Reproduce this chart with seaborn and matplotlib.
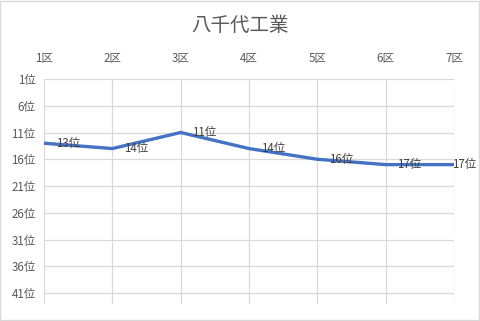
import matplotlib
matplotlib.use("Agg")
import matplotlib.pyplot as plt
import seaborn as sns
import pandas as pd
from matplotlib.patches import Rectangle

# Data
sections = ["1区", "2区", "3区", "4区", "5区", "6区", "7区"]
ranks = [13, 14, 11, 14, 16, 17, 17]
rank_ticks = [1, 6, 11, 16, 21, 26, 31, 36, 41]
title = "八千代工業"

sns.set_theme(style="white")
plt.rcParams['font.family'] = ['Noto Sans CJK JP', 'DejaVu Sans']

df = pd.DataFrame({"pos": range(len(sections)), "section": sections, "rank": ranks})

fig = plt.figure(figsize=(4.8, 3.21), dpi=100)
ax = fig.add_axes([44/480, 1-304/321, (454-44)/480, (304-79)/321])

sns.lineplot(data=df, x="pos", y="rank", ax=ax, color="#4472C4", linewidth=2.4,
             solid_capstyle="round", solid_joinstyle="round", zorder=3)

ax.set_ylim(43.05, 1)
ax.set_xlim(0, len(sections) - 1)
ax.set_yticks(rank_ticks)
ax.set_yticklabels([f"{r}位" for r in rank_ticks], fontsize=8.3, color="#595959")
ax.set_xticks(range(len(sections)))
ax.set_xticklabels(sections, fontsize=8.3, color="#595959")
ax.xaxis.tick_top()
ax.tick_params(axis="x", pad=10, length=0)
ax.tick_params(axis="y", pad=6, length=0)
ax.set_xlabel("")
ax.set_ylabel("")

ax.grid(True, color="#D9D9D9", linewidth=0.9)
ax.set_axisbelow(True)
for s in ax.spines.values():
    s.set_visible(False)

for i, r in enumerate(ranks):
    dx = 8.5 if i < len(ranks) - 1 else -1.5
    ax.annotate(f"{r}位", (i, r), xytext=(dx, 0), textcoords="offset points",
                ha="left", va="center", fontsize=8.3, color="#404040", zorder=4,
                annotation_clip=False)

fig.text(0.5, 1-25/321, title, ha="center", va="center", fontsize=14, color="#595959")

fig.patches.append(Rectangle((0.001, 0.002), 0.997, 0.995, transform=fig.transFigure,
                             fill=False, edgecolor="#D9D9D9", linewidth=1))

fig.savefig("out.png", dpi=100, facecolor="white")
